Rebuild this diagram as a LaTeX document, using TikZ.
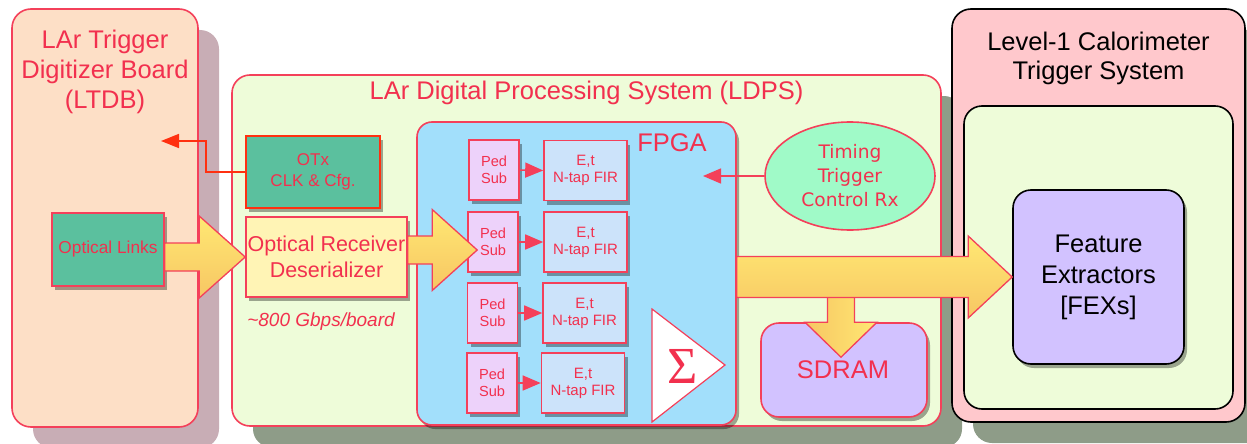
\documentclass[tikz,border=0pt]{standalone}
\usepackage{fontspec}
\setmainfont{Liberation Sans}
\newfontfamily\dvfont{DejaVu Sans}
\newfontfamily\sigfont{Liberation Serif}
\usetikzlibrary{arrows.meta,shadows,calc,shapes.geometric}
\definecolor{lred}{HTML}{F2304E}
\definecolor{bred}{HTML}{F4405A}
\definecolor{ored}{HTML}{FF3010}
\definecolor{cLTDB}{HTML}{FDDFC6}
\definecolor{cLDPS}{HTML}{EEFCD9}
\definecolor{cTeal}{HTML}{5BC09E}
\definecolor{cRx}{HTML}{FFF4B5}
\definecolor{cFPGA}{HTML}{A2DFFB}
\definecolor{cPed}{HTML}{EDD2FA}
\definecolor{cFIR}{HTML}{CCE3FA}
\definecolor{cMint}{HTML}{A0FAC8}
\definecolor{cLav}{HTML}{D2C2FF}
\definecolor{cPink}{HTML}{FFC8CC}
\definecolor{shA}{HTML}{C8ADB5}
\definecolor{shB}{HTML}{8E9C88}
\definecolor{yTop}{HTML}{FFE873}
\definecolor{yBot}{HTML}{F7C663}
\tikzset{
  box/.style={draw=bred, line width=1.6pt, inner sep=0pt, text=lred, align=center},
  bigbox/.style={box, rounded corners=19pt, line width=1.6pt},
  blackbox/.style={draw=black, line width=1.6pt, inner sep=0pt, align=center, rounded corners=19pt},
  softshadow/.style={drop shadow={shadow xshift=3pt, shadow yshift=-4pt, opacity=0.35, fill=black}},
  bigshadowA/.style={drop shadow={shadow xshift=21pt, shadow yshift=-21pt, opacity=1, fill=shA}},
  bigshadowB/.style={drop shadow={shadow xshift=21pt, shadow yshift=-21pt, opacity=1, fill=shB}},
  bigarrow/.style={draw=bred, line width=1.3pt, top color=yTop, bottom color=yBot, line join=miter},
  sarrow/.style={draw=bred, line width=1.5pt, -{Triangle[length=18pt,width=15pt]}},
  title/.style={text=lred, align=center, inner sep=0pt, font=\fontsize{25.5pt}{30pt}\selectfont},
  pedbox/.style={box, fill=cPed, minimum width=50pt, minimum height=60pt, softshadow, font=\fontsize{14.6pt}{17pt}\selectfont},
  firbox/.style={box, fill=cFIR, minimum width=83pt, minimum height=60pt, softshadow, font=\fontsize{15pt}{17pt}\selectfont}
}
\begin{document}
\begin{tikzpicture}[x=1pt,y=-1pt]
\useasboundingbox (0,0) rectangle (1247,444);
% outer containers
\node[bigbox, fill=cLTDB, bigshadowA, minimum width=186pt, minimum height=418pt] (ltdb) at (105,218) {};
\node[bigbox, fill=cLDPS, bigshadowB, rounded corners=18pt, minimum width=709pt, minimum height=351pt] (ldps) at (586.5,250.5) {};
\node[blackbox, fill=cPink, bigshadowB, minimum width=293pt, minimum height=413pt] (l1) at (1098.5,215.5) {};
% titles
\node[title] (ltdbt) at (105,72) {LAr Trigger\\Digitizer Board\\(LTDB)};
\node[title] (ldpst) at (586.5,93) {LAr Digital Processing System (LDPS)};
\node[title, text=black, font=\fontsize{25.5pt}{29pt}\selectfont] (l1t) at (1098.5,58) {Level-1 Calorimeter\\Trigger System};
% L1 inner
\node[blackbox, fill=cLDPS, rounded corners=18pt, minimum width=269pt, minimum height=303pt] (l1in) at (1098.5,257.5) {};
\node[blackbox, fill=cLav, rounded corners=18pt, minimum width=171pt, minimum height=174pt, softshadow, font=\fontsize{25.5pt}{31pt}\selectfont] (fex) at (1098.5,277) {Feature\\Extractors\\{}[FEXs]};
% LTDB contents
\node[box, fill=cTeal, softshadow, minimum width=112pt, minimum height=73pt, font=\fontsize{17.3pt}{20pt}\selectfont] (links) at (108,249.5) {Optical Links};
% LDPS contents
\node[box, draw=ored, line width=2.2pt, fill=cTeal, softshadow, minimum width=134pt, minimum height=72pt, font=\fontsize{17pt}{21pt}\selectfont] (otx) at (313,172) {OTx\\CLK \& Cfg.};
\node[box, fill=cRx, softshadow, minimum width=161pt, minimum height=80pt, font=\fontsize{21.5pt}{26pt}\selectfont] (rx) at (326.5,257) {Optical Receiver\\Deserializer};
\node[text=lred, inner sep=0pt, font=\fontsize{19pt}{22pt}\selectfont\itshape] (rate) at (321,322) {\textasciitilde800 Gbps/board};
\node[box, fill=cFPGA, rounded corners=15pt, softshadow, minimum width=319pt, minimum height=303pt] (fpga) at (576.5,273.5) {};
\node[title] (fpgat) at (672,143) {FPGA};
\node[ellipse, draw=bred, line width=1.6pt, fill=cMint, minimum width=170pt, minimum height=108pt, inner sep=0pt, text=lred, align=center, font=\dvfont\fontsize{18.6pt}{24pt}\selectfont] (tim) at (850,176) {Timing\\Trigger\\Control Rx};
\node[box, fill=cLav, rounded corners=18pt, minimum width=166pt, minimum height=94pt, softshadow] (sdram) at (844,370) {};
% FPGA contents
\node[pedbox] (ped1) at (494,170) {Ped\\Sub};
\node[pedbox] (ped2) at (493,242) {Ped\\Sub};
\node[pedbox] (ped3) at (492.5,313) {Ped\\Sub};
\node[pedbox] (ped4) at (492,383) {Ped\\Sub};
\node[firbox] (fir1) at (585.5,170.5) {E,t\\N-tap FIR};
\node[firbox] (fir2) at (585.5,242) {E,t\\N-tap FIR};
\node[firbox] (fir3) at (584.5,313) {E,t\\N-tap FIR};
\node[firbox] (fir4) at (583,383) {E,t\\N-tap FIR};
\draw[sarrow] (ped1.east) -- (fir1.west);
\draw[sarrow] (ped2.east) -- (fir2.west);
\draw[sarrow] (ped3.east) -- (fir3.west);
\draw[sarrow] (ped4.east) -- (fir4.west);
% sum triangle
\draw[draw=bred, fill=white, line width=1.2pt] (652,309) -- (725,365) -- (652,422) -- cycle;
\node[text=lred, inner sep=0pt, font=\sigfont\fontsize{52pt}{52pt}\selectfont] (sig) at (683,366) {Σ};
% thin connectors
\coordinate (ltdbin) at (161,141);
\coordinate (otxc) at (206,141);
\draw[draw=ored, line width=1.6pt, -{Triangle[length=18pt,width=14pt]}] (otx.west) -| (otxc) -- (ltdbin);
\coordinate (fpgain) at (703,176);
\draw[sarrow] (tim.west) -- (fpgain);
% big arrows
\coordinate (a1t) at (rx.west);
\coordinate (a1s) at (links.east |- rx.west);
\draw[bigarrow] ($(a1s)+(0,-14)$) -- ($(a1t)+(-46,-14)$) -- ($(a1t)+(-46,-41)$) -- (a1t) -- ($(a1t)+(-46,41)$) -- ($(a1t)+(-46,14)$) -- ($(a1s)+(0,14)$) -- cycle;
\coordinate (a2t) at ($(ped2.west)+(10,8)$);
\coordinate (a2s) at (rx.east |- a2t);
\draw[bigarrow] ($(a2s)+(0,-14)$) -- ($(a2t)+(-45,-14)$) -- ($(a2t)+(-45,-40.5)$) -- (a2t) -- ($(a2t)+(-45,40.5)$) -- ($(a2t)+(-45,14)$) -- ($(a2s)+(0,14)$) -- cycle;
\coordinate (a4t) at ($(sdram.north)+(-3,35)$);
\coordinate (a4s) at (a4t |- fex.west);
\draw[bigarrow, left color=yBot, right color=yTop] ($(a4s)+(-13.5,0)$) -- ($(a4t)+(-13.5,-35)$) -- ($(a4t)+(-36,-35)$) -- (a4t) -- ($(a4t)+(36,-35)$) -- ($(a4t)+(13.5,-35)$) -- ($(a4s)+(13.5,0)$) -- cycle;
\coordinate (a3t) at (fex.west);
\coordinate (a3s) at (fpga.east |- fex.west);
\draw[bigarrow] ($(a3s)+(0,-20.5)$) -- ($(a3t)+(-44,-20.5)$) -- ($(a3t)+(-44,-41)$) -- (a3t) -- ($(a3t)+(-44,41)$) -- ($(a3t)+(-44,20.5)$) -- ($(a3s)+(0,20.5)$) -- cycle;
\node[text=lred, inner sep=0pt, font=\fontsize{25.5pt}{30pt}\selectfont] (sdramt) at (843,370) {SDRAM};
\end{tikzpicture}
\end{document}
